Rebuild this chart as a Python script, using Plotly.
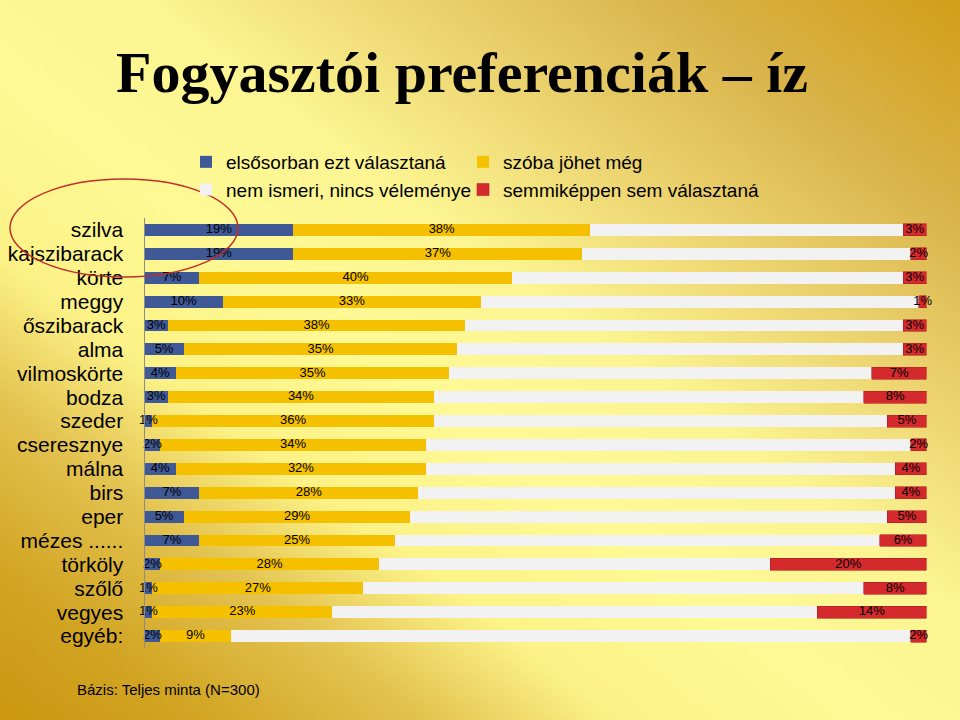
import base64, struct, zlib
import numpy as np
import plotly.graph_objects as go

categories = ["szilva", "kajszibarack", "körte", "meggy", "őszibarack", "alma",
              "vilmoskörte", "bodza", "szeder", "cseresznye", "málna", "birs",
              "eper", "mézes ......", "törköly", "szőlő", "vegyes", "egyéb:"]
series_names = ["elsősorban ezt választaná", "szóba jöhet még",
                "nem ismeri, nincs véleménye", "semmiképpen sem választaná"]
first_choice = [19, 19, 7, 10, 3, 5, 4, 3, 1, 2, 4, 7, 5, 7, 2, 1, 1, 2]
possible = [38, 37, 40, 33, 38, 35, 35, 34, 36, 34, 32, 28, 29, 25, 28, 27, 23, 9]
unknown = [40, 42, 50, 56, 56, 57, 54, 55, 58, 62, 60, 61, 61, 62, 50, 64, 62, 87]
never = [3, 2, 3, 1, 3, 3, 7, 8, 5, 2, 4, 4, 5, 6, 20, 8, 14, 2]
colors = ["#3F5896", "#F5C000", "#F2F2F2", "#D42A2E"]

# ---- background gradient image (diagonal gold / light yellow) ----
W, H = 192, 144
U, V = np.meshgrid(np.linspace(0, 1, W), np.linspace(0, 1, H))
T = ((1 - U) + V) / 2
stops = [0.0, 0.15, 0.3, 0.42, 0.55, 0.68, 0.78, 0.9, 1.0]
cols = np.array([(210, 160, 25), (218, 180, 75), (238, 215, 115), (252, 245, 145),
                 (255, 250, 150), (252, 242, 135), (228, 195, 80), (210, 165, 35),
                 (204, 152, 18)], dtype=float)
img = np.zeros((H, W, 3))
for c in range(3):
    img[..., c] = np.interp(T, stops, cols[:, c])
img = img.clip(0, 255).astype(np.uint8)


def png_bytes(arr):
    h, w, _ = arr.shape
    raw = b"".join(b"\x00" + arr[i].tobytes() for i in range(h))

    def chunk(tag, data):
        c = struct.pack(">I", len(data)) + tag + data
        return c + struct.pack(">I", zlib.crc32(tag + data) & 0xFFFFFFFF)

    return (b"\x89PNG\r\n\x1a\n" +
            chunk(b"IHDR", struct.pack(">IIBBBBB", w, h, 8, 2, 0, 0, 0)) +
            chunk(b"IDAT", zlib.compress(raw, 9)) + chunk(b"IEND", b""))


bg_src = "data:image/png;base64," + base64.b64encode(png_bytes(img)).decode()

fig = go.Figure()
values = [first_choice, possible, unknown, never]
legend_ids = ["legend", "legend2", "legend", "legend2"]
for i, (name, vals) in enumerate(zip(series_names, values)):
    fig.add_trace(go.Bar(
        y=categories, x=vals, name=name, orientation="h",
        marker=dict(color=colors[i],
                    line=dict(color="#B02020" if i == 3 else colors[i],
                              width=0.6 if i == 3 else 0)),
        legend=legend_ids[i],
        hoverinfo="x+y+name",
    ))

# value labels centred on each labelled segment (computed from the data)
arr = np.array(values, dtype=float)
starts = np.vstack([np.zeros(len(categories)), np.cumsum(arr, axis=0)[:-1]])
for i in (0, 1, 3):
    fig.add_trace(go.Scatter(
        y=categories, x=starts[i] + arr[i] / 2, mode="text",
        text=[f"{int(v)}%" for v in arr[i]], textposition="middle center",
        textfont=dict(color="black", size=13, family="Liberation Sans, Arial"),
        showlegend=False, hoverinfo="skip", cliponaxis=False,
    ))

n = len(categories)
fig.update_layout(
    width=960, height=720,
    margin=dict(l=0, r=0, t=0, b=0),
    barmode="stack", bargap=0.5,
    paper_bgcolor="#F2DC70", plot_bgcolor="rgba(0,0,0,0)",
    font=dict(family="Liberation Sans, Arial", color="black"),
    title=dict(text="Fogyasztói preferenciák – íz", x=462 / 960, xanchor="center",
               y=1 - 72 / 720, yanchor="middle",
               font=dict(family="Liberation Serif, Times New Roman", size=58,
                         color="black", weight="bold")),
    xaxis=dict(domain=[144.5 / 960, 926.5 / 960], range=[0, 100], visible=False,
               fixedrange=True),
    yaxis=dict(domain=[1 - 648 / 720, 1 - 218 / 720], categoryorder="array",
               categoryarray=categories, autorange=False, range=[n - 0.5, -0.5],
               tickmode="array", tickvals=categories, ticktext=categories,
               showline=True, linecolor="#8C8C8C", linewidth=1, ticks="",
               showgrid=False, ticklabelstandoff=16,
               tickfont=dict(size=21, color="black"), automargin=False),
    legend=dict(x=186 / 960, y=1 - 143 / 720, xanchor="left", yanchor="top",
                orientation="v", bgcolor="rgba(0,0,0,0)", font=dict(size=19),
                itemwidth=30, traceorder="normal"),
    legend2=dict(x=463 / 960, y=1 - 143 / 720, xanchor="left", yanchor="top",
                 orientation="v", bgcolor="rgba(0,0,0,0)", font=dict(size=19),
                 itemwidth=30, traceorder="normal"),
    images=[dict(source=bg_src, xref="paper", yref="paper", x=0, y=1,
                 sizex=1, sizey=1, xanchor="left", yanchor="top",
                 sizing="stretch", layer="below")],
    shapes=[dict(type="circle", xref="paper", yref="paper",
                 x0=10 / 960, x1=238 / 960, y0=1 - 277 / 720, y1=1 - 179 / 720,
                 line=dict(color="#C0302A", width=1.5), layer="above")],
    annotations=[dict(text="Bázis: Teljes minta (N=300)", xref="paper", yref="paper",
                      x=75 / 960, y=1 - 689 / 720, xanchor="left", yanchor="middle",
                      showarrow=False, font=dict(size=15, color="black"))],
)

fig.write_html("out.html")
